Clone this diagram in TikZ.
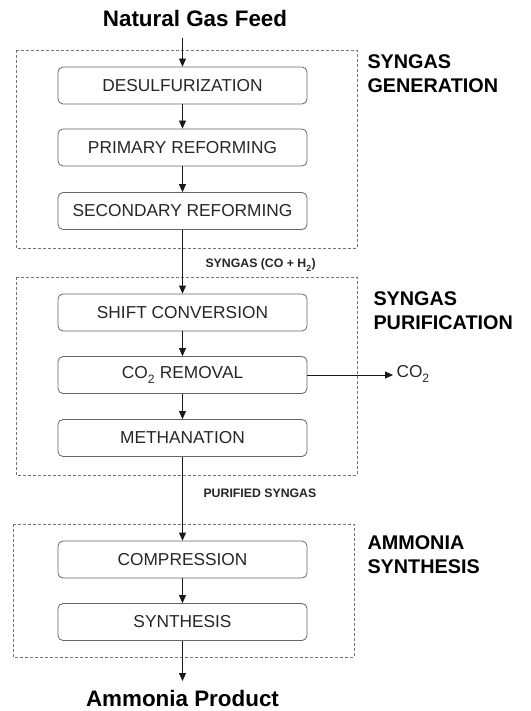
\documentclass[tikz,border=0pt]{standalone}
\usepackage{fontspec}
\setmainfont{Liberation Sans}
\usetikzlibrary{arrows.meta}
\newcommand{\lowsub}[1]{\textsubscript{\raisebox{-0.3ex}{#1}}}
\tikzset{
  stage/.style={draw=black!60, rounded corners=5pt, minimum width=249pt, minimum height=37pt,
    inner sep=0pt, text=black!85, line width=0.8pt, font=\fontsize{17.3}{19}\selectfont},
  group/.style={draw=black!55, dash pattern=on 3pt off 2pt, line width=0.8pt},
  flow/.style={-{Triangle[length=8pt,width=7pt]}, line width=0.8pt, black!90},
  grouplabel/.style={anchor=west, align=left, font=\bfseries\fontsize{19.8}{24}\selectfont},
  streamlabel/.style={anchor=west, text=black!85, font=\bfseries\fontsize{12.3}{14}\selectfont},
  endlabel/.style={inner sep=1pt, font=\bfseries\fontsize{22.4}{26}\selectfont}
}
\begin{document}
\begin{tikzpicture}[x=1pt,y=-1pt]
\useasboundingbox (0,0) rectangle (530,711);
\draw[group] (16,50) rectangle (357,248);
\draw[group] (16,277) rectangle (357,475);
\draw[group] (13,524) rectangle (354,657);
\node[endlabel] (feed) at (195,18) {Natural Gas Feed};
\coordinate (feedout) at (182.5,38);
\node[stage] (desulf) at (182.5,85.5) {DESULFURIZATION};
\node[stage] (primary) at (182.5,147.5) {PRIMARY REFORMING};
\node[stage] (secondary) at (182.5,211) {SECONDARY REFORMING};
\node[stage] (shift) at (182.5,312.5) {SHIFT CONVERSION};
\node[stage] (co2rem) at (182.5,375) {CO\lowsub{2} REMOVAL};
\node[stage] (meth) at (182.5,438) {METHANATION};
\node[stage] (compr) at (182.5,559.5) {COMPRESSION};
\node[stage] (synth) at (182.5,622) {SYNTHESIS};
\node[endlabel] (product) at (182.5,698.5) {Ammonia Product};
\coordinate (productin) at (182.5,681);
\node[grouplabel] (gen) at (364,74) {SYNGAS\\GENERATION};
\node[grouplabel] (pur) at (370,310.5) {SYNGAS\\PURIFICATION};
\node[grouplabel] (amm) at (364,555) {AMMONIA\\SYNTHESIS};
\node[streamlabel] (syngas) at (202,265) {SYNGAS (CO + H\lowsub{2})};
\node[streamlabel] (purified) at (200,493) {PURIFIED SYNGAS};
\node[anchor=west, text=black!85, font=\fontsize{17.3}{19}\selectfont] (co2out) at (393,374) {CO\lowsub{2}};
\draw[flow] (feedout) -- (desulf);
\draw[flow] (desulf) -- (primary);
\draw[flow] (primary) -- (secondary);
\draw[flow] (secondary) -- (shift);
\draw[flow] (shift) -- (co2rem);
\draw[flow] (co2rem) -- (meth);
\draw[flow] (co2rem.east) -- (co2out.west |- co2rem.east);
\draw[flow] (meth) -- (compr);
\draw[flow] (compr) -- (synth);
\draw[flow] (synth) -- (productin);
\end{tikzpicture}
\end{document}
